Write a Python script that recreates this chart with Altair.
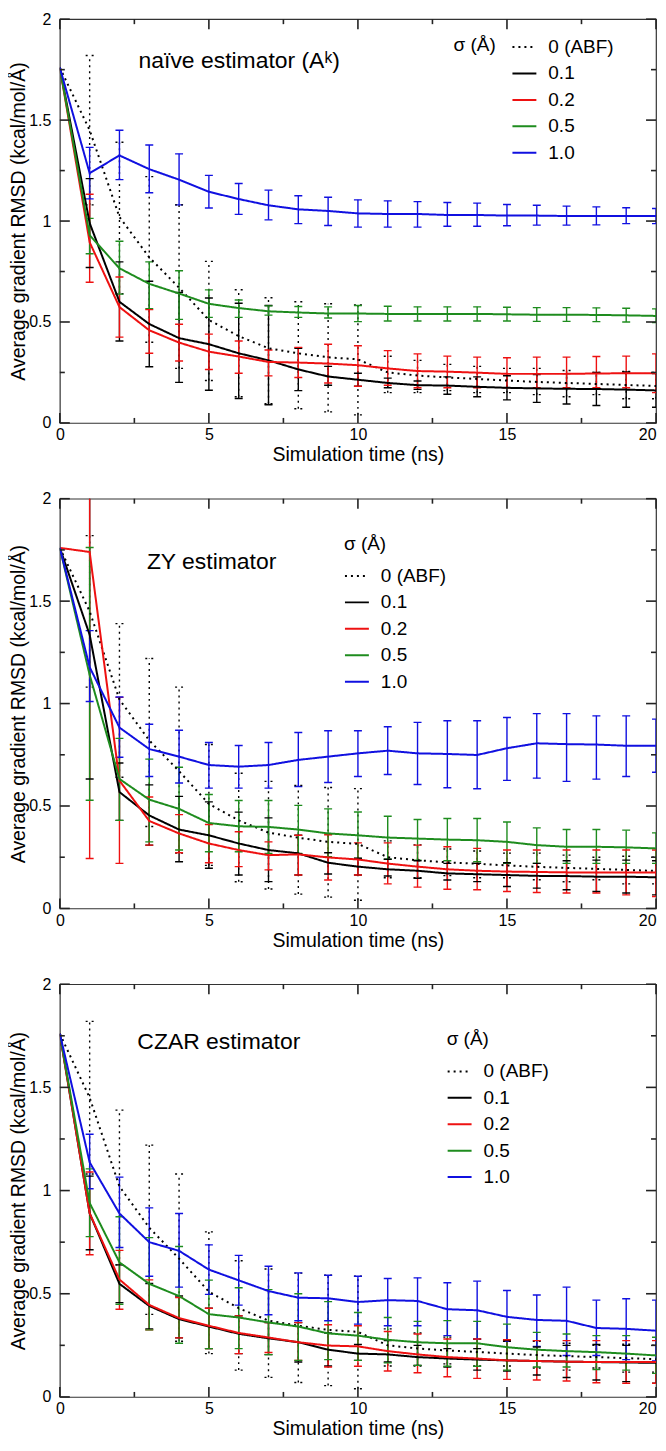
import altair as alt
import pandas as pd

FONT = "Liberation Sans"
T = list(range(21))
SERIES = ["0 (ABF)", "0.1", "0.2", "0.5", "1.0"]
COLORS = ["#000000", "#000000", "#ee1111", "#1e8c1e", "#1010e0"]
DASHES = [[2, 4], [1, 0], [1, 0], [1, 0], [1, 0]]
X_MAJOR = [0, 5, 10, 15, 20]
X_MINOR = [2.5, 7.5, 12.5, 17.5]
Y_MAJOR = [0, 0.5, 1, 1.5, 2]
Y_MINOR = [0.25, 0.75, 1.25, 1.75]
X_DOMAIN = [0, 20]
Y_DOMAIN = [0, 2]

abf_v = [1.76, 1.45, 1.02, 0.82, 0.67, 0.51, 0.43, 0.37, 0.345, 0.325, 0.315, 0.25, 0.235, 0.225, 0.218, 0.21, 0.203, 0.198, 0.193, 0.188, 0.183]
abf_lo = [1.08, 0.64, 0.40, 0.27, 0.21, 0.13, 0.095, 0.07, 0.055, 0.04, 0.15, 0.15, 0.16, 0.15, 0.15, 0.14, 0.13, 0.14, 0.12, 0.12]
abf_hi = [1.82, 1.39, 1.22, 1.08, 0.80, 0.66, 0.62, 0.60, 0.59, 0.585, 0.33, 0.31, 0.29, 0.28, 0.27, 0.27, 0.26, 0.25, 0.255, 0.25]

nv01_v = [1.76, 0.99, 0.60, 0.49, 0.42, 0.39, 0.345, 0.31, 0.265, 0.23, 0.214, 0.198, 0.187, 0.185, 0.179, 0.174, 0.171, 0.169, 0.168, 0.165, 0.161]
nv01_lo = [0.77, 0.406, 0.278, 0.201, 0.162, 0.121, 0.09, 0.16, 0.187, 0.182, 0.174, 0.166, 0.142, 0.13, 0.114, 0.102, 0.094, 0.086, 0.078, 0.078]
nv01_hi = [1.21, 0.798, 0.702, 0.646, 0.619, 0.593, 0.582, 0.37, 0.28, 0.246, 0.222, 0.208, 0.228, 0.228, 0.234, 0.24, 0.244, 0.25, 0.252, 0.244]
nv02_v = [1.76, 0.895, 0.574, 0.459, 0.398, 0.353, 0.329, 0.302, 0.299, 0.294, 0.286, 0.27, 0.257, 0.254, 0.249, 0.243, 0.243, 0.243, 0.245, 0.246, 0.246]
nv02_lo = [0.697, 0.425, 0.345, 0.307, 0.265, 0.246, 0.233, 0.225, 0.198, 0.182, 0.187, 0.174, 0.174, 0.174, 0.174, 0.174, 0.174, 0.174, 0.174, 0.15]
nv02_hi = [1.133, 0.723, 0.561, 0.489, 0.44, 0.406, 0.361, 0.374, 0.39, 0.382, 0.358, 0.342, 0.331, 0.326, 0.323, 0.326, 0.326, 0.329, 0.331, 0.342]
nv05_v = [1.76, 0.93, 0.766, 0.689, 0.641, 0.59, 0.569, 0.553, 0.547, 0.542, 0.542, 0.54, 0.539, 0.539, 0.54, 0.538, 0.536, 0.536, 0.535, 0.533, 0.53]
nv05_lo = [0.838, 0.638, 0.566, 0.513, 0.523, 0.523, 0.534, 0.523, 0.52, 0.502, 0.505, 0.505, 0.505, 0.505, 0.505, 0.503, 0.503, 0.502, 0.5, 0.497]
nv05_hi = [1.013, 0.9, 0.798, 0.754, 0.659, 0.609, 0.58, 0.577, 0.575, 0.582, 0.578, 0.575, 0.575, 0.575, 0.573, 0.571, 0.571, 0.57, 0.568, 0.565]
nv10_v = [1.76, 1.237, 1.325, 1.257, 1.205, 1.145, 1.109, 1.078, 1.058, 1.05, 1.038, 1.035, 1.035, 1.03, 1.03, 1.027, 1.027, 1.025, 1.025, 1.025, 1.025]
nv10_lo = [1.11, 1.205, 1.14, 1.08, 1.065, 1.033, 1.006, 0.987, 0.978, 0.97, 0.97, 0.97, 0.974, 0.974, 0.977, 0.98, 0.98, 0.981, 0.987, 0.987]
nv10_hi = [1.365, 1.45, 1.377, 1.333, 1.226, 1.186, 1.153, 1.125, 1.118, 1.105, 1.1, 1.096, 1.092, 1.089, 1.082, 1.078, 1.074, 1.07, 1.066, 1.062]

zy01_v = [1.76, 1.336, 0.568, 0.454, 0.385, 0.357, 0.317, 0.285, 0.269, 0.223, 0.204, 0.191, 0.184, 0.171, 0.167, 0.163, 0.159, 0.158, 0.155, 0.155, 0.152]
zy01_lo = [0.632, 0.43, 0.309, 0.228, 0.196, 0.163, 0.131, 0.163, 0.168, 0.163, 0.158, 0.147, 0.139, 0.131, 0.107, 0.099, 0.091, 0.083, 0.075, 0.066]
zy01_hi = [2.04, 0.71, 0.603, 0.547, 0.52, 0.47, 0.442, 0.357, 0.272, 0.245, 0.24, 0.233, 0.22, 0.22, 0.223, 0.22, 0.233, 0.236, 0.236, 0.233]
zy02_v = [1.76, 1.74, 0.624, 0.427, 0.366, 0.317, 0.285, 0.26, 0.264, 0.249, 0.239, 0.219, 0.204, 0.191, 0.184, 0.18, 0.178, 0.176, 0.176, 0.176, 0.175]
zy02_lo = [0.244, 0.22, 0.309, 0.272, 0.223, 0.204, 0.188, 0.163, 0.139, 0.163, 0.12, 0.104, 0.094, 0.091, 0.083, 0.078, 0.075, 0.075, 0.066, 0.058]
zy02_hi = [3.2, 1.03, 0.544, 0.458, 0.41, 0.374, 0.325, 0.357, 0.36, 0.32, 0.32, 0.309, 0.301, 0.293, 0.285, 0.285, 0.285, 0.285, 0.285, 0.285]
zy05_v = [1.76, 1.14, 0.632, 0.531, 0.486, 0.417, 0.401, 0.398, 0.385, 0.366, 0.357, 0.346, 0.341, 0.336, 0.333, 0.325, 0.309, 0.301, 0.301, 0.298, 0.293]
zy05_lo = [0.528, 0.43, 0.325, 0.285, 0.277, 0.277, 0.269, 0.269, 0.252, 0.244, 0.24, 0.236, 0.233, 0.228, 0.22, 0.22, 0.22, 0.22, 0.22, 0.22]
zy05_hi = [1.762, 0.83, 0.729, 0.689, 0.556, 0.527, 0.527, 0.503, 0.486, 0.471, 0.45, 0.434, 0.439, 0.439, 0.422, 0.393, 0.385, 0.385, 0.382, 0.369]
zy10_v = [1.76, 1.178, 0.883, 0.778, 0.741, 0.70, 0.692, 0.70, 0.725, 0.741, 0.757, 0.77, 0.757, 0.754, 0.749, 0.782, 0.806, 0.802, 0.80, 0.794, 0.794]
zy10_lo = [1.01, 0.738, 0.644, 0.612, 0.587, 0.587, 0.587, 0.595, 0.615, 0.644, 0.654, 0.605, 0.589, 0.584, 0.625, 0.636, 0.62, 0.631, 0.644, 0.665]
zy10_hi = [1.356, 1.032, 0.899, 0.87, 0.81, 0.795, 0.81, 0.859, 0.867, 0.867, 0.887, 0.908, 0.916, 0.916, 0.932, 0.951, 0.951, 0.94, 0.94, 0.924]

cz01_v = [1.76, 0.89, 0.548, 0.441, 0.377, 0.341, 0.306, 0.284, 0.265, 0.229, 0.21, 0.206, 0.193, 0.186, 0.181, 0.177, 0.174, 0.171, 0.169, 0.167, 0.165]
cz01_lo = [0.713, 0.457, 0.33, 0.286, 0.234, 0.21, 0.205, 0.169, 0.15, 0.177, 0.169, 0.153, 0.145, 0.13, 0.126, 0.106, 0.094, 0.082, 0.074, 0.066]
cz01_hi = [1.07, 0.64, 0.55, 0.489, 0.43, 0.393, 0.36, 0.36, 0.31, 0.254, 0.273, 0.25, 0.234, 0.234, 0.273, 0.242, 0.25, 0.254, 0.25, 0.25]
cz02_v = [1.76, 0.89, 0.569, 0.446, 0.382, 0.345, 0.31, 0.288, 0.265, 0.249, 0.245, 0.222, 0.206, 0.193, 0.186, 0.177, 0.174, 0.171, 0.169, 0.169, 0.169]
cz02_lo = [0.689, 0.425, 0.325, 0.286, 0.234, 0.21, 0.215, 0.177, 0.145, 0.149, 0.126, 0.117, 0.098, 0.09, 0.085, 0.082, 0.077, 0.069, 0.066, 0.066]
cz02_hi = [1.09, 0.71, 0.567, 0.482, 0.43, 0.393, 0.36, 0.36, 0.35, 0.345, 0.317, 0.305, 0.281, 0.281, 0.277, 0.273, 0.273, 0.273, 0.273, 0.273]
cz05_v = [1.76, 0.94, 0.652, 0.548, 0.489, 0.401, 0.385, 0.361, 0.341, 0.308, 0.297, 0.277, 0.265, 0.26, 0.26, 0.241, 0.229, 0.222, 0.217, 0.21, 0.201]
cz05_lo = [0.777, 0.449, 0.325, 0.26, 0.234, 0.234, 0.205, 0.177, 0.181, 0.177, 0.165, 0.153, 0.149, 0.149, 0.13, 0.145, 0.145, 0.133, 0.13, 0.114]
cz05_hi = [1.105, 0.873, 0.772, 0.729, 0.566, 0.529, 0.52, 0.5, 0.462, 0.409, 0.385, 0.366, 0.37, 0.366, 0.353, 0.313, 0.305, 0.297, 0.297, 0.289]
cz10_v = [1.76, 1.137, 0.889, 0.75, 0.708, 0.617, 0.565, 0.513, 0.481, 0.478, 0.46, 0.469, 0.465, 0.425, 0.42, 0.388, 0.373, 0.369, 0.334, 0.33, 0.321]
cz10_lo = [1.009, 0.724, 0.585, 0.532, 0.497, 0.445, 0.398, 0.369, 0.369, 0.353, 0.345, 0.345, 0.297, 0.281, 0.27, 0.245, 0.201, 0.201, 0.181, 0.174]
cz10_hi = [1.273, 1.065, 0.916, 0.889, 0.737, 0.686, 0.633, 0.601, 0.59, 0.585, 0.574, 0.577, 0.553, 0.561, 0.516, 0.494, 0.532, 0.469, 0.476, 0.469]

LABELS = ["naïve estimator (Aᵏ)", "ZY estimator", "CZAR estimator"]
LABEL_T = [2.64, 2.92, 2.60]
LABEL_V = [1.795, 1.69, 1.72]
SIGMA_TEXT = "σ (Å)"
SIGMA_T = 13.21
SIGMA_V = 1.872

X_TITLE = "Simulation time (ns)"
Y_TITLE = "Average gradient RMSD (kcal/mol/Å)"
PLOT_W = 598

xs = alt.Scale(domain=X_DOMAIN, nice=False, zero=False)
ys = alt.Scale(domain=Y_DOMAIN, nice=False, zero=False)

XA = alt.Axis(values=X_MAJOR, ticks=False, domain=False, grid=False, labelPadding=4,
              format="~g", labelFlush=False, labelOverlap=False,
              labelAlign={"expr": "datum.value >= 20 ? 'right' : 'center'"},
              title=X_TITLE, titlePadding=3)
YA = alt.Axis(values=Y_MAJOR, ticks=False, domain=False, grid=False, labelPadding=9,
              format="~g", labelFlush=False, labelOverlap=False, title=Y_TITLE, titlePadding=0)


def build_df(series_data):
    rows = []
    for name, (val, lo, hi) in zip(SERIES, series_data):
        for i, t in enumerate(T):
            rows.append({"t": t, "v": val[i],
                         "lo": lo[i - 1] if i > 0 else None,
                         "hi": hi[i - 1] if i > 0 else None,
                         "s": name})
    return pd.DataFrame(rows)


def col(leg):
    return alt.Color("s:N", scale=alt.Scale(domain=SERIES, range=COLORS), sort=SERIES, legend=leg)


def dash(leg):
    return alt.StrokeDash("s:N", scale=alt.Scale(domain=SERIES, range=DASHES), sort=SERIES, legend=leg)


def tick_layer(height):
    # inward ticks on all four sides (major 10 px, minor 5 px), lengths converted to data units
    rows = []
    ypx = (Y_DOMAIN[1] - Y_DOMAIN[0]) / height
    xpx = (X_DOMAIN[1] - X_DOMAIN[0]) / PLOT_W
    for vals, size in ((X_MAJOR, 10), (X_MINOR, 5)):
        for p in vals:
            rows.append({"x1": p, "x2": p, "y1": Y_DOMAIN[0], "y2": Y_DOMAIN[0] + size * ypx})
            rows.append({"x1": p, "x2": p, "y1": Y_DOMAIN[1], "y2": Y_DOMAIN[1] - size * ypx})
    for vals, size in ((Y_MAJOR, 10), (Y_MINOR, 5)):
        for p in vals:
            rows.append({"y1": p, "y2": p, "x1": X_DOMAIN[0], "x2": X_DOMAIN[0] + size * xpx})
            rows.append({"y1": p, "y2": p, "x1": X_DOMAIN[1], "x2": X_DOMAIN[1] - size * xpx})
    d = pd.DataFrame(rows)
    return alt.Chart(d).mark_rule(color="#222222", strokeWidth=1.6).encode(
        x=alt.X("x1:Q", scale=xs, axis=XA), x2="x2:Q",
        y=alt.Y("y1:Q", scale=ys, axis=YA), y2="y2:Q")


def panel(series_data, idx, leg, height):
    df = build_df(series_data)
    base = alt.Chart(df)
    X = alt.X("t:Q", scale=xs, axis=XA)
    eb = base.transform_filter("isValid(datum.lo)")
    rules = eb.mark_rule(strokeWidth=1.4, clip=True).encode(
        x=X, y=alt.Y("lo:Q", scale=ys, axis=YA), y2="hi:Q",
        color=col(leg), strokeDash=dash(leg))
    cap_lo = eb.mark_rule(strokeWidth=1.4, clip=True, xOffset=-4, x2Offset=4).encode(
        x=X, x2="t:Q", y=alt.Y("lo:Q", scale=ys, axis=YA),
        color=col(leg), strokeDash=dash(leg))
    cap_hi = eb.mark_rule(strokeWidth=1.4, clip=True, xOffset=-4, x2Offset=4).encode(
        x=X, x2="t:Q", y=alt.Y("hi:Q", scale=ys, axis=YA),
        color=col(leg), strokeDash=dash(leg))
    lines = base.mark_line(strokeWidth=2, clip=True).encode(
        x=X, y=alt.Y("v:Q", scale=ys, axis=YA),
        color=col(leg), strokeDash=dash(leg), order="t:Q")
    ann_df = pd.DataFrame({"t": [LABEL_T[idx]], "v": [LABEL_V[idx]], "txt": [LABELS[idx]]})
    ann = alt.Chart(ann_df).mark_text(align="left", baseline="middle", fontSize=23,
                                      font=FONT, color="black").encode(
        x=alt.X("t:Q", scale=xs, axis=XA), y=alt.Y("v:Q", scale=ys, axis=YA), text="txt:N")
    layers = [rules, cap_lo, cap_hi, lines, ann]
    if idx == 0:
        sig_df = pd.DataFrame({"t": [SIGMA_T], "v": [SIGMA_V], "txt": [SIGMA_TEXT]})
        layers.append(alt.Chart(sig_df).mark_text(align="left", baseline="middle", fontSize=19,
                                                  font=FONT, color="black").encode(
            x=alt.X("t:Q", scale=xs, axis=XA), y=alt.Y("v:Q", scale=ys, axis=YA), text="txt:N"))
    layers.append(tick_layer(height))
    return alt.layer(*layers).properties(width=PLOT_W, height=height)


def legend(x, y, with_title):
    kw = dict(orient="none", legendX=x, legendY=y,
              symbolType="stroke", symbolSize=576, symbolStrokeWidth=2,
              labelFontSize=19, labelFont=FONT, rowPadding=3.5, labelOffset=11,
              padding=0, labelColor="black")
    if with_title:
        kw.update(title=SIGMA_TEXT, titleOrient="top", titleFontSize=19, titleFontWeight="normal",
                  titleFont=FONT, titlePadding=9.5, titleColor="black")
    else:
        kw.update(title=None)
    return alt.Legend(**kw)


p1 = panel([(abf_v, abf_lo, abf_hi), (nv01_v, nv01_lo, nv01_hi), (nv02_v, nv02_lo, nv02_hi),
            (nv05_v, nv05_lo, nv05_hi), (nv10_v, nv10_lo, nv10_hi)], 0, legend(453, 15, False), 405)
p2 = panel([(abf_v, abf_lo, abf_hi), (zy01_v, zy01_lo, zy01_hi), (zy02_v, zy02_lo, zy02_hi),
            (zy05_v, zy05_lo, zy05_hi), (zy10_v, zy10_lo, zy10_hi)], 1, legend(285, 36, True), 411)
p3 = panel([(abf_v, abf_lo, abf_hi), (cz01_v, cz01_lo, cz01_hi), (cz02_v, cz02_lo, cz02_hi),
            (cz05_v, cz05_lo, cz05_hi), (cz10_v, cz10_lo, cz10_hi)], 2, legend(388, 46, True), 414)

chart = alt.vconcat(p1, p2, p3, spacing=24).resolve_scale(
    color="independent", strokeDash="independent").resolve_legend(
    color="independent", strokeDash="independent").properties(
    padding={"left": 0, "top": 0, "right": 0, "bottom": 0}).configure_view(
    stroke="#333333", strokeWidth=1.2).configure_axis(
    labelFont=FONT, titleFont=FONT, labelFontSize=16, titleFontSize=19.5,
    titleFontWeight="normal", labelColor="black", titleColor="black")

chart.save("out.html", embed_options={"renderer": "svg", "actions": False})
